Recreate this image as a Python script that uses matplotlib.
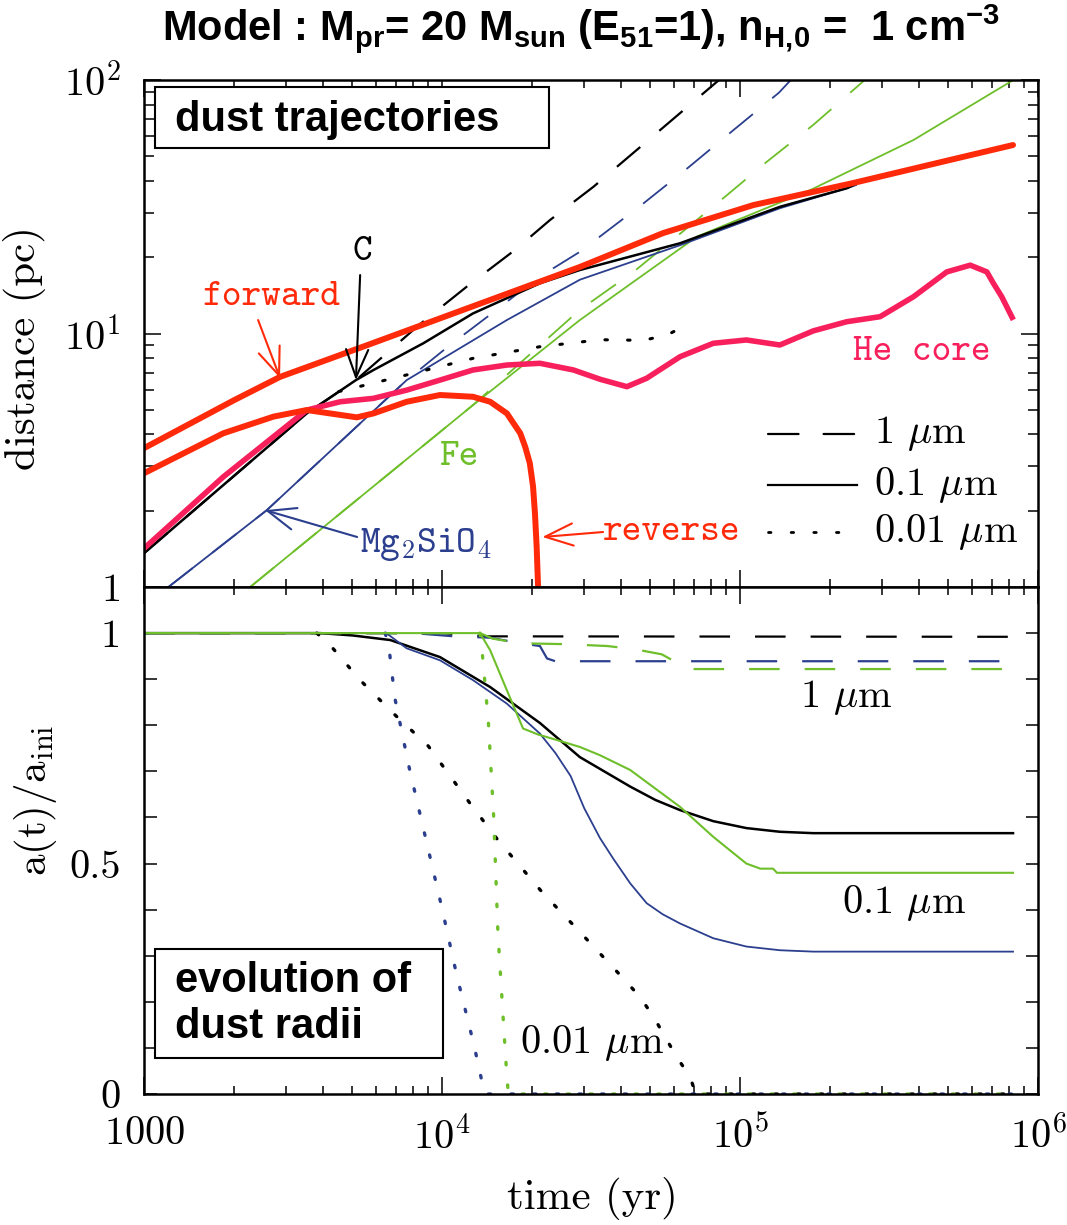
import matplotlib.pyplot as plt
from matplotlib.patches import Rectangle
from matplotlib.ticker import LogLocator, MultipleLocator, NullFormatter

# ---------------------------------------------------------------
# Dust trajectories (time in yr, distance in pc)
# ---------------------------------------------------------------
fwd_t = [1000, 2000, 2857, 5863, 12000, 29000, 55200, 110700, 239000, 500000, 824000]
fwd_d = [3.53, 5.45, 6.74, 9.17, 12.5, 18.3, 24.9, 32.1, 39.2, 48.2, 55.4]

rev_t = [1000, 1845, 2718, 3516, 5176, 5890, 7610, 9840, 12700, 14500, 16500,
         18300, 19000, 19700, 20200, 20500, 20770, 21000]
rev_d = [2.81, 4.04, 4.70, 4.99, 4.67, 4.84, 5.38, 5.72, 5.63, 5.38, 4.84,
         4.04, 3.58, 3.08, 2.49, 1.95, 1.44, 1.0]

he_t = [1000, 1845, 3516, 4550, 5890, 7610, 9840, 12700, 16500, 21300, 27600,
        33900, 41700, 48600, 62900, 81300, 105000, 136000, 176000, 228000,
        295000, 382000, 494000, 592000, 673000, 708000, 755000, 826000]
he_d = [1.42, 2.72, 4.99, 5.38, 5.55, 5.98, 6.55, 7.18, 7.51, 7.63, 7.18,
        6.6, 6.17, 6.66, 8.10, 9.15, 9.43, 9.01, 10.24, 11.13,
        11.65, 13.97, 17.5, 18.6, 17.5, 15.78, 13.97, 11.32]

# C grains
c_t_01 = [1000, 3516, 5140, 5890, 8650, 12700, 21300, 29000, 62900, 136000, 228000, 240000]
c_d_01 = [1.36, 4.84, 6.55, 7.18, 9.15, 12.0, 15.78, 17.8, 22.7, 31.6, 37.4, 38.5]
c_t_1 = [1000, 3516, 5140, 8440, 12100, 17600, 23000, 32200, 76400, 85000]
c_d_1 = [1.36, 4.84, 6.55, 10.9, 15.3, 21.4, 28.0, 37.9, 89.9, 100]
c_t_001 = [4500, 8020, 12700, 21300, 33900, 47400, 56800, 66200]
c_d_001 = [5.9, 6.97, 7.98, 8.87, 9.45, 9.4, 9.86, 10.8]

# Mg2SiO4 grains
mg_t_01 = [1207, 2582, 7610, 16500, 29000, 62900, 136000, 228000, 245000]
mg_d_01 = [1.0, 2.01, 6.55, 11.3, 16.3, 22.3, 31.2, 37.4, 38.5]
mg_t_1 = [1207, 2582, 7610, 10500, 15100, 21000, 29000, 47400, 67100, 95100, 135000, 148000]
mg_d_1 = [1.0, 2.01, 6.55, 8.9, 12.3, 16.6, 21.0, 32.6, 45.2, 63.5, 89.1, 100]

# Fe grains
fe_t_01 = [2270, 12700, 29000, 71600, 172000, 382000, 826000]
fe_d_01 = [1.0, 5.22, 11.3, 24.1, 36.8, 58.0, 100]
fe_t_1 = [2270, 12700, 29000, 43900, 61200, 87900, 123000, 176000, 247000, 262000]
fe_d_1 = [1.0, 5.22, 12.4, 17.5, 24.1, 34.2, 47.6, 66.5, 94.1, 100]

# ---------------------------------------------------------------
# Grain radii a(t)/a_ini
# ---------------------------------------------------------------
ca_t_01 = [1000, 3900, 5000, 6700, 9840, 14500, 21300, 29000, 42800, 52000,
           62900, 81300, 105000, 136000, 176000, 824000]
ca_a_01 = [1.0, 1.0, 0.995, 0.985, 0.948, 0.883, 0.805, 0.731, 0.667, 0.638,
           0.616, 0.592, 0.577, 0.569, 0.566, 0.566]
ca_t_1 = [1000, 10000, 14000, 824000]
ca_a_1 = [1.0, 1.0, 0.993, 0.992]
ca_t_001 = [3800, 4210, 5310, 6860, 8990, 12400, 15400, 21800, 28300, 40400,
            46100, 51200, 61200, 68000, 71000, 824000]
ca_a_001 = [1.0, 0.974, 0.898, 0.826, 0.755, 0.631, 0.551, 0.436, 0.359, 0.252,
            0.211, 0.168, 0.081, 0.037, 0.0, 0.0]

mga_t_01 = [1000, 6500, 7610, 9840, 12700, 16500, 21300, 24000, 27000, 30000,
            33900, 37600, 42800, 48600, 55000, 62900, 81300, 105000, 136000,
            176000, 824000]
mga_a_01 = [1.0, 1.0, 0.967, 0.941, 0.898, 0.847, 0.782, 0.74, 0.69, 0.62,
            0.555, 0.51, 0.457, 0.414, 0.39, 0.370, 0.338, 0.320, 0.312,
            0.309, 0.309]
mga_t_1 = [1000, 8000, 11000, 14500, 18300, 21300, 22500, 24000, 824000]
mga_a_1 = [1.0, 1.0, 0.993, 0.99, 0.978, 0.972, 0.945, 0.939, 0.939]
mga_t_001 = [6450, 6650, 6950, 7770, 8810, 9970, 11200, 12800, 13900, 824000]
mga_a_001 = [1.0, 0.963, 0.858, 0.706, 0.555, 0.406, 0.258, 0.106, 0.0, 0.0]

fea_t_01 = [1000, 13400, 14500, 16500, 18700, 21000, 24300, 29000, 33900, 42800,
            62900, 81300, 105000, 117000, 129000, 133000, 824000]
fea_a_01 = [1.0, 1.0, 0.963, 0.876, 0.793, 0.78, 0.768, 0.753, 0.735, 0.703,
            0.623, 0.558, 0.500, 0.489, 0.489, 0.480, 0.480]
fea_t_1 = [1000, 13400, 14800, 18300, 26000, 35800, 44400, 54600, 67100, 824000]
fea_a_1 = [1.0, 1.0, 0.988, 0.978, 0.976, 0.972, 0.965, 0.954, 0.922, 0.922]
fea_t_001 = [13400, 13600, 14300, 14900, 15400, 16100, 16500, 16700, 824000]
fea_a_001 = [1.0, 0.967, 0.808, 0.602, 0.349, 0.146, 0.038, 0.0, 0.0]

# ---------------------------------------------------------------
# style
# ---------------------------------------------------------------
plt.rcParams['font.family'] = 'cmr10'
plt.rcParams['mathtext.fontset'] = 'cm'
plt.rcParams['axes.formatter.use_mathtext'] = True
plt.rcParams['lines.scale_dashes'] = False
plt.rcParams['lines.solid_joinstyle'] = 'round'
plt.rcParams['mathtext.rm'] = 'Liberation Sans:bold'
plt.rcParams['mathtext.it'] = 'Liberation Sans:bold'
plt.rcParams['mathtext.bf'] = 'Liberation Sans:bold'
plt.rcParams['mathtext.sf'] = 'Liberation Sans:bold'

RED = '#ff2a0a'
PINK = '#f8205c'
BLUE = '#2b3f8e'
GREEN = '#6ebf2a'
DASH = (0, (22, 18))
DOT = (0, (1.8, 14.5))

fig = plt.figure(figsize=(10.67, 12.25), dpi=100)
ax1 = fig.add_axes([0.1350, 0.5208, 0.8379, 0.4139])
ax2 = fig.add_axes([0.1350, 0.1069, 0.8379, 0.4139])

for ax in (ax1, ax2):
    ax.set_xscale('log')
    ax.set_xlim(1000, 1e6)
    ax.xaxis.set_minor_locator(LogLocator(base=10, subs=range(2, 10)))
    ax.xaxis.set_minor_formatter(NullFormatter())
    ax.tick_params(which='both', direction='in', top=True, right=True,
                   width=1.1, colors='black')
    ax.tick_params(axis='x', which='major', length=12)
    ax.tick_params(axis='x', which='minor', length=6)
    for s in ax.spines.values():
        s.set_linewidth(1.8)

# ---------------- top panel ----------------
ax1.set_yscale('log')
ax1.set_ylim(1, 100)
ax1.yaxis.set_minor_locator(LogLocator(base=10, subs=range(2, 10)))
ax1.yaxis.set_minor_formatter(NullFormatter())
ax1.set_yticks([1, 10, 100], [r'$\mathrm{1}$', r'$10^{1}$', r'$10^{2}$'])
ax1.tick_params(axis='y', which='major', length=12, labelsize=29, pad=17)
ax1.tick_params(axis='y', which='minor', length=7)
ax1.tick_params(axis='x', labelbottom=False)

ax1.plot(fe_t_01, fe_d_01, color=GREEN, lw=1.3)
ax1.plot(fe_t_1, fe_d_1, color=GREEN, lw=1.3, ls=DASH)
ax1.plot(mg_t_01, mg_d_01, color=BLUE, lw=1.3)
ax1.plot(mg_t_1, mg_d_1, color=BLUE, lw=1.3, ls=DASH)
ax1.plot(c_t_01, c_d_01, color='black', lw=1.8)
ax1.plot(c_t_1, c_d_1, color='black', lw=1.6, ls=DASH)
ax1.plot(c_t_001, c_d_001, color='black', lw=2.2, ls=DOT, dash_capstyle='round')
ax1.plot(he_t, he_d, color=PINK, lw=4.0, solid_capstyle='butt')
ax1.plot(fwd_t, fwd_d, color=RED, lw=4.3, solid_capstyle='round')
ax1.plot(rev_t, rev_d, color=RED, lw=4.3, solid_capstyle='butt')

arrow = dict(arrowstyle='->,head_length=1.0,head_width=0.4', lw=1.5,
             shrinkA=0, shrinkB=0, mutation_scale=20)
ax1.annotate('', xy=(2860, 6.67), xytext=(2414, 11.3),
             arrowprops=dict(arrow, color=RED))
ax1.annotate('', xy=(5140, 6.55), xytext=(5310, 17.0),
             arrowprops=dict(arrow, color='black'))
ax1.annotate('', xy=(2546, 2.01), xytext=(5189, 1.575),
             arrowprops=dict(arrow, color=BLUE))
ax1.annotate('', xy=(21700, 1.575), xytext=(34700, 1.648),
             arrowprops=dict(arrow, color=RED))

ax1.text(2668, 13.9, 'forward', color=RED, family='cmtt10', fontsize=27,
         ha='center', va='center')
ax1.text(5395, 20.8, 'C', color='black', family='cmtt10', fontsize=27,
         ha='center', va='center')
ax1.text(4.08e5, 8.38, 'He core', color=PINK, family='cmtt10', fontsize=27,
         ha='center', va='center')
ax1.text(11330, 3.23, 'Fe', color=GREEN, family='cmtt10', fontsize=27,
         ha='center', va='center')
ax1.text(5310, 1.465, r'Mg$_2$SiO$_4$', color=BLUE, family='cmtt10', fontsize=27,
         ha='left', va='center')
ax1.text(34700, 1.648, 'reverse', color=RED, family='cmtt10', fontsize=27,
         ha='left', va='center')

# grain size key
key = [(DASH, r'1 $\mu$m', 0.302), ('-', r'0.1 $\mu$m', 0.201),
       (DOT, r'0.01 $\mu$m', 0.108)]
for style, label, yk in key:
    ax1.plot([0.698, 0.798], [yk, yk], transform=ax1.transAxes, color='black',
             lw=2.0 if style is DOT else 1.6, ls=style, dash_capstyle='round')
    ax1.text(0.817, yk, label, transform=ax1.transAxes, fontsize=29,
             ha='left', va='center')

ax1.add_patch(Rectangle((0.0123, 0.866), 0.4407, 0.120, transform=ax1.transAxes,
                        facecolor='white', edgecolor='black', lw=1.5, zorder=5))
ax1.text(0.035, 0.922, 'dust trajectories', transform=ax1.transAxes,
         family='Liberation Sans', fontweight='bold', fontsize=30,
         ha='left', va='center', zorder=6)

# ---------------- bottom panel ----------------
ax2.set_ylim(0, 1.1)
ax2.set_yticks([0, 0.5, 1], ['0', '0.5', '1'])
ax2.yaxis.set_minor_locator(MultipleLocator(0.1))
ax2.tick_params(axis='y', which='both', length=9, labelsize=29, pad=17)
ax2.set_xticks([1e3, 1e4, 1e5, 1e6],
               [r'$\mathrm{1000}$', r'$10^{4}$', r'$10^{5}$', r'$10^{6}$'])
ax2.tick_params(axis='x', which='major', labelsize=29, pad=16)

ax2.plot(ca_t_01, ca_a_01, color='black', lw=1.8)
ax2.plot(mga_t_01, mga_a_01, color=BLUE, lw=1.3)
ax2.plot(ca_t_1, ca_a_1, color='black', lw=1.6, ls=DASH)
ax2.plot(mga_t_1, mga_a_1, color=BLUE, lw=1.6, ls=DASH)
ax2.plot(fea_t_1, fea_a_1, color=GREEN, lw=1.6, ls=DASH)
ax2.plot(ca_t_001, ca_a_001, color='black', lw=2.4, ls=DOT, dash_capstyle='round')
ax2.plot(mga_t_001, mga_a_001, color=BLUE, lw=2.4, ls=DOT, dash_capstyle='round')
ax2.plot(fea_t_001, fea_a_001, color=GREEN, lw=2.4, ls=DOT, dash_capstyle='round')
ax2.plot(fea_t_01, fea_a_01, color=GREEN, lw=1.5)

ax2.text(1.59e5, 0.861, r'1 $\mu$m', fontsize=29, ha='left', va='center')
ax2.text(2.2e5, 0.414, r'0.1 $\mu$m', fontsize=29, ha='left', va='center')
ax2.text(18300, 0.111, r'0.01 $\mu$m', fontsize=29, ha='left', va='center')

ax2.add_patch(Rectangle((0.0123, 0.071), 0.3222, 0.215, transform=ax2.transAxes,
                        facecolor='white', edgecolor='black', lw=1.5, zorder=5))
ax2.text(0.035, 0.178, 'evolution of\ndust radii', transform=ax2.transAxes,
         family='Liberation Sans', fontweight='bold', fontsize=30,
         ha='left', va='center', linespacing=1.2, zorder=6)

# ---------------- labels ----------------
fig.text(0.0225, 0.716, 'distance (pc)', rotation=90, fontsize=31,
         ha='center', va='center')
fig.text(0.033, 0.347, r'$\mathrm{a(t)/a_{ini}}$', rotation=90, fontsize=31,
         ha='center', va='center')
fig.text(0.5548, 0.022, 'time (yr)', fontsize=31, ha='center', va='center')

fig.text(0.5445, 0.977,
         r'Model : M$_{\mathrm{pr}}$= 20 M$_{\mathrm{sun}}$ (E$_{\mathrm{51}}$=1), '
         r'n$_{\mathrm{H,\!0}}$ =  1 cm$^{\mathrm{-3}}$',
         family='Liberation Sans', fontweight='bold', fontsize=30,
         math_fontfamily='custom', ha='center', va='center')

fig.savefig('out.png', dpi=100)
